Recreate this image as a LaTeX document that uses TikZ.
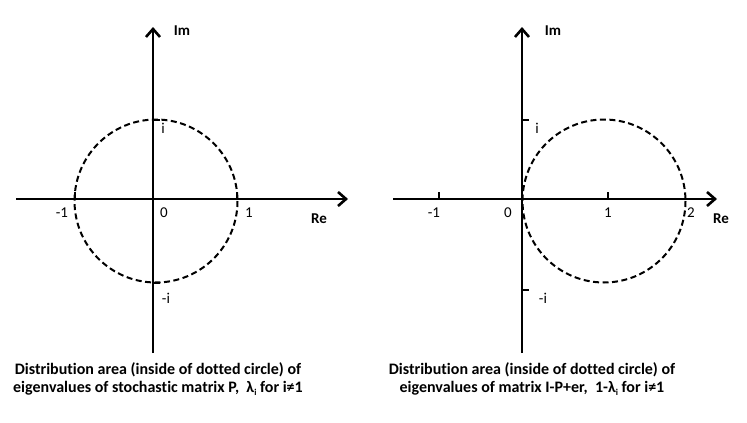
\documentclass[tikz,border=0pt]{standalone}
\usepackage{fontspec}
\setmainfont{Carlito}[Ligatures=NoCommon]
\usetikzlibrary{arrows.meta}
\newcommand{\subi}{{\fontsize{9}{9}\selectfont\raisebox{-2.5pt}{i}}}
\begin{document}
\begin{tikzpicture}[x=1pt,y=-1pt,
  axis/.style={line width=2.8pt,-{Straight Barb[length=8pt,width=14pt,line width=2.6pt]}},
  dcircle/.style={line width=2pt,dash pattern=on 6pt off 3.5pt},
  tickmark/.style={line width=1.3pt},
  lbl/.style={font=\fontsize{15}{15}\selectfont,inner sep=0pt},
  axlbl/.style={font=\bfseries\fontsize{15}{15}\selectfont,inner sep=0pt},
  captxt/.style={font=\bfseries\fontsize{16}{18.5}\selectfont,align=center,inner sep=0pt}]
\useasboundingbox (0,0) rectangle (747,423);
% ---- left panel
\coordinate (L0) at (153,199);
\coordinate (Lxs) at (16,199);
\coordinate (Lxe) at (348,199);
\coordinate (Lys) at (153,353);
\coordinate (Lye) at (153,27);
\draw[axis] (Lxs) -- (Lxe);
\draw[axis] (Lys) -- (Lye);
\coordinate (Lt1a) at (75,199); \coordinate (Lt1b) at (75,192);
\coordinate (Lt2a) at (237,199); \coordinate (Lt2b) at (237,192);
\coordinate (Lt3a) at (153,120); \coordinate (Lt3b) at (160,120);
\coordinate (Lt4a) at (153,283); \coordinate (Lt4b) at (160,283);
\draw[tickmark] (Lt1a) -- (Lt1b);
\draw[tickmark] (Lt2a) -- (Lt2b);
\draw[tickmark] (Lt3a) -- (Lt3b);
\draw[tickmark] (Lt4a) -- (Lt4b);
\coordinate (Lc) at (156,201);
\draw[dcircle] (Lc) circle [radius=81.5];
\node[axlbl] (LIm) at (182,31) {Im};
\node[axlbl] (LRe) at (319,219) {Re};
\node[lbl] (Lm1) at (62,213) {-1};
\node[lbl] (Lz) at (164,213) {0};
\node[lbl] (Lp1) at (249,213) {1};
\node[lbl] (Li) at (163,128) {i};
\node[lbl] (Lmi) at (166,298) {-i};
\node[captxt] (Lcap) at (158,379) {Distribution area (inside of dotted circle) of\\eigenvalues of stochastic matrix P,\ \ λ\subi{} for i≠1};
% ---- right panel
\coordinate (R0) at (522,199);
\coordinate (Rxs) at (393,199);
\coordinate (Rxe) at (717,199);
\coordinate (Rys) at (522,353);
\coordinate (Rye) at (522,27);
\draw[axis] (Rxs) -- (Rxe);
\draw[axis] (Rys) -- (Rye);
\coordinate (Rt1a) at (439,199); \coordinate (Rt1b) at (439,192);
\coordinate (Rt2a) at (608,199); \coordinate (Rt2b) at (608,192);
\coordinate (Rt3a) at (522,120); \coordinate (Rt3b) at (529,120);
\coordinate (Rt4a) at (522,290); \coordinate (Rt4b) at (529,290);
\draw[tickmark] (Rt1a) -- (Rt1b);
\draw[tickmark] (Rt2a) -- (Rt2b);
\draw[tickmark] (Rt3a) -- (Rt3b);
\draw[tickmark] (Rt4a) -- (Rt4b);
\coordinate (Rc) at (604,201);
\draw[dcircle] (Rc) circle [radius=81.5];
\node[axlbl] (RIm) at (553,31) {Im};
\node[axlbl] (RRe) at (721,219) {Re};
\node[lbl] (Rm1) at (434,213) {-1};
\node[lbl] (Rz) at (508,213) {0};
\node[lbl] (Rp1) at (608,213) {1};
\node[lbl] (Rp2) at (691,213) {2};
\node[lbl] (Ri) at (537,128) {i};
\node[lbl] (Rmi) at (543,298) {-i};
\node[captxt] (Rcap) at (532,379) {Distribution area (inside of dotted circle) of\\eigenvalues of matrix I-P+er,\ \ 1-λ\subi{} for i≠1};
\end{tikzpicture}
\end{document}
